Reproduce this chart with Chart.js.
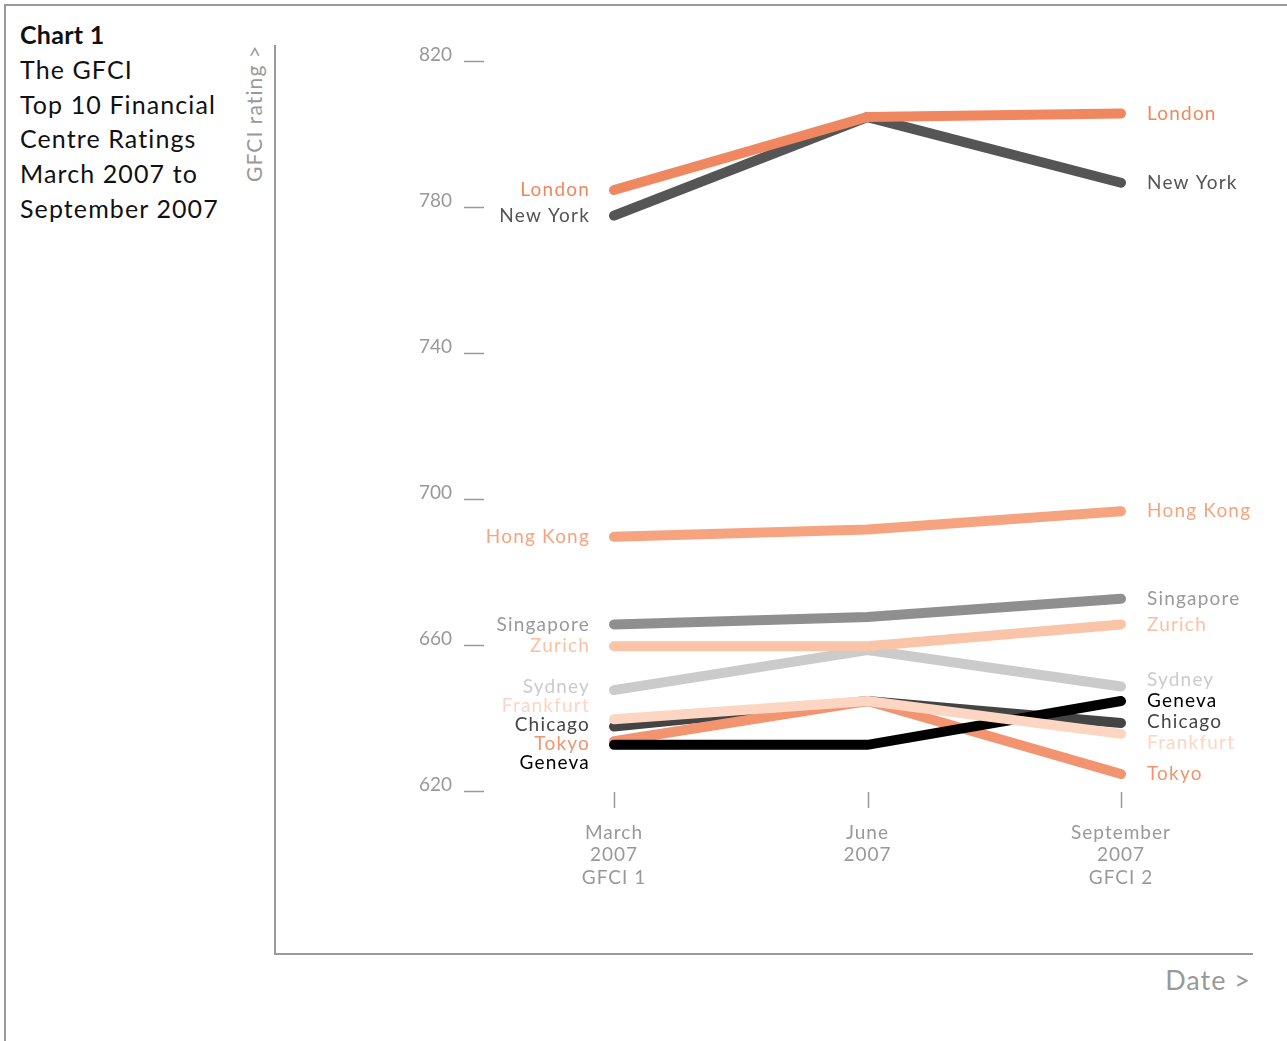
<!DOCTYPE html>
<html>
<head>
<meta charset="utf-8">
<script src="https://cdn.jsdelivr.net/npm/chart.js@4"></script>
<style>
  body { margin: 0; background: #fff; font-family: Lato, sans-serif; }
  .page { position: relative; width: 1287px; height: 1041px; overflow: hidden; }
  .frame { position: absolute; left: 4px; top: 4px; width: 1400px; height: 1200px; border-left: 2px solid #999; border-top: 2px solid #999; }
  .title { position: absolute; left: 20px; top: 17px; font-size: 25px; line-height: 34.8px; color: #111; letter-spacing: 1.1px; }
  .title b { font-weight: 700; letter-spacing: 0.3px; }
  .yline { position: absolute; left: 274px; top: 45px; width: 1.5px; height: 909px; background: #999; }
  .xline { position: absolute; left: 274px; top: 953px; width: 979px; height: 1.5px; background: #999; }
  .ytitle { position: absolute; left: 241px; top: 182px; transform-origin: 0 0; transform: rotate(-90deg); font-size: 21px; color: #999; white-space: nowrap; letter-spacing: 1.1px; }
  .xtitle { position: absolute; right: 36px; top: 963px; font-size: 27px; color: #999; letter-spacing: 1px; }
  canvas { position: absolute; left: 0; top: 0; }
</style>
</head>
<body>
<div class="page">
  <div class="frame"></div>
  <div class="title"><b>Chart 1</b><br>The GFCI<br>Top 10 Financial<br>Centre Ratings<br>March 2007 to<br>September 2007</div>
  <div class="yline"></div>
  <div class="xline"></div>
  <div class="ytitle">GFCI rating &gt;</div>
  <div class="xtitle">Date &gt;</div>
  <canvas id="myChart" width="1287" height="1041"></canvas>
</div>
<script>
// data
const periods = [['March', '2007', 'GFCI 1'], ['June', '2007'], ['September', '2007', 'GFCI 2']];
const yTicks = [620, 660, 700, 740, 780, 820];

const london    = [783, 803, 804];
const newYork   = [776, 803, 785];
const hongKong  = [688, 690, 695];
const singapore = [664, 666, 671];
const zurich    = [658, 658, 664];
const sydney    = [646, 657, 647];
const frankfurt = [638, 643, 634];
const chicago   = [636, 643, 637];
const tokyo     = [632, 643, 623];
const geneva    = [631, 631, 643];

// drawn top first
const series = [
  { name: 'London',    data: london,    line: '#EF8860', text: '#EF8860' },
  { name: 'New York',  data: newYork,   line: '#555555', text: '#555555' },
  { name: 'Hong Kong', data: hongKong,  line: '#F5A47F', text: '#F5A47F' },
  { name: 'Singapore', data: singapore, line: '#8F8F8F', text: '#999999' },
  { name: 'Zurich',    data: zurich,    line: '#F9C4A7', text: '#F9C1A3' },
  { name: 'Frankfurt', data: frankfurt, line: '#FCD6C2', text: '#FCD6C2' },
  { name: 'Geneva',    data: geneva,    line: '#000000', text: '#000000' },
  { name: 'Sydney',    data: sydney,    line: '#CBCBCB', text: '#CBCBCB' },
  { name: 'Tokyo',     data: tokyo,     line: '#F29470', text: '#F29470' },
  { name: 'Chicago',   data: chicago,   line: '#444444', text: '#444444' }
];

// spread labels so they don't overlap
function spread(items, gap) {
  items.sort((a, b) => a.y - b.y);
  let groups = items.map(it => ({ list: [it], center: it.y }));
  let merged = true;
  while (merged) {
    merged = false;
    for (let i = 0; i < groups.length - 1; i++) {
      const a = groups[i], b = groups[i + 1];
      const aBottom = a.center + (a.list.length - 1) * gap / 2;
      const bTop = b.center - (b.list.length - 1) * gap / 2;
      if (bTop - aBottom < gap) {
        const list = a.list.concat(b.list);
        const center = list.reduce((s, it) => s + it.y, 0) / list.length;
        groups.splice(i, 2, { list: list, center: center });
        merged = true;
        break;
      }
    }
  }
  groups.forEach(g => {
    g.list.forEach((it, k) => { it.ly = g.center + (k - (g.list.length - 1) / 2) * gap; });
  });
  return items;
}

const decor = {
  id: 'decor',
  beforeDraw(chart) {
    chart.ctx.letterSpacing = '1px';
  },
  afterDatasetsDraw(chart) {
    const ctx = chart.ctx;
    const y = chart.scales.y, x = chart.scales.x;
    ctx.save();
    ctx.strokeStyle = '#999';
    ctx.lineWidth = 1.5;
    ctx.font = '19px Lato, sans-serif';
    ctx.fillStyle = '#999';
    ctx.textAlign = 'right';
    ctx.textBaseline = 'middle';
    ctx.letterSpacing = '0px';
    yTicks.forEach(v => {
      const py = Math.round(y.getPixelForValue(v));
      ctx.fillText(String(v), 452, py);
      ctx.beginPath(); ctx.moveTo(464, py + 6.5); ctx.lineTo(484, py + 6.5); ctx.stroke();
    });
    periods.forEach((p, i) => {
      const px = Math.round(x.getPixelForValue(i)) + 0.5;
      ctx.beginPath(); ctx.moveTo(px, chart.chartArea.bottom + 7); ctx.lineTo(px, chart.chartArea.bottom + 23); ctx.stroke();
    });

    ctx.letterSpacing = '1.2px';
    const left = [], right = [];
    chart.data.datasets.forEach((ds, i) => {
      const pts = chart.getDatasetMeta(i).data;
      left.push({ name: ds.label, color: ds.textColor, x: pts[0].x, y: pts[0].y });
      right.push({ name: ds.label, color: ds.textColor, x: pts[pts.length - 1].x, y: pts[pts.length - 1].y });
    });
    spread(left, 19).forEach(it => {
      ctx.fillStyle = it.color; ctx.textAlign = 'right';
      ctx.fillText(it.name, it.x - 24, it.ly);
    });
    spread(right, 21).forEach(it => {
      ctx.fillStyle = it.color; ctx.textAlign = 'left';
      ctx.fillText(it.name, it.x + 26, it.ly);
    });
    ctx.restore();
  }
};

const ctx = document.getElementById('myChart').getContext('2d');

const chart = new Chart(ctx, {
  type: 'line',
  data: {
    labels: periods,
    datasets: series.map(s => ({
      label: s.name,
      data: s.data,
      borderColor: s.line,
      textColor: s.text,
      borderWidth: 10,
      borderCapStyle: 'round',
      borderJoinStyle: 'miter',
      pointRadius: 0,
      tension: 0,
      fill: false
    }))
  },
  options: {
    responsive: false,
    animation: false,
    layout: { padding: { top: 55, right: 166, bottom: 0, left: 0 } },
    plugins: { legend: { display: false }, tooltip: { enabled: false } },
    scales: {
      x: {
        grid: { display: false, drawTicks: false },
        border: { display: false },
        ticks: { color: '#999', font: { family: 'Lato', size: 19 }, padding: 36, maxRotation: 0, autoSkip: false },
        afterFit: s => { s.height = 256; }
      },
      y: {
        min: 620, max: 820,
        grid: { display: false, drawTicks: false },
        border: { display: false },
        ticks: { display: false, stepSize: 40 },
        afterFit: s => { s.width = 614; }
      }
    }
  },
  plugins: [decor]
});
</script>
</body>
</html>
